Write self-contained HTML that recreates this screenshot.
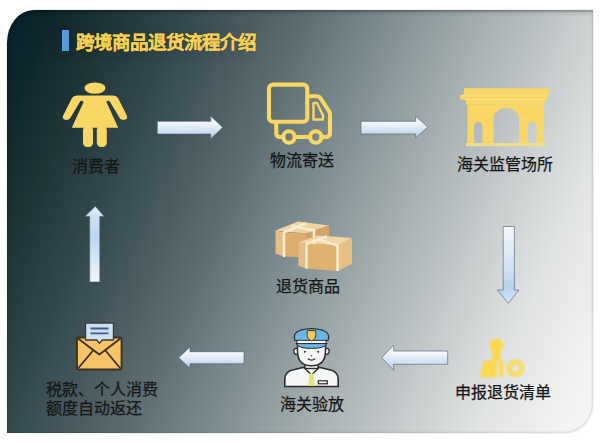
<!DOCTYPE html>
<html lang="zh-CN"><head><meta charset="utf-8">
<style>
html,body{margin:0;padding:0;background:#fff;}
body{width:600px;height:443px;position:relative;overflow:hidden;font-family:"Liberation Sans",sans-serif;}
.panel{position:absolute;left:6.7px;top:10px;width:586.3px;height:422.5px;
 border-radius:27px 0 28px 0 / 33px 0 30px 0;
 box-shadow:inset 0 0 2px 1px rgba(0,0,0,0.11),inset 0 2px 0 rgba(0,0,0,0.1),inset 0 5px 4px -2px rgba(0,0,0,0.14),0 0 2px rgba(0,0,0,0.2);
 background:linear-gradient(113deg,#07202a 0%,#0c242a 5%,#1e3336 13%,#33484d 23%,#5d6c70 39%,#748489 47%,#9ea8aa 60%,#cbcfd0 76%,#e2e5e4 85%,#f2f3f3 96%,#f5f5f5 100%);}
.t{position:absolute;white-space:nowrap;font-size:16px;color:#161616;line-height:1;-webkit-text-stroke:0.25px #161616;}
.title{position:absolute;left:76.3px;top:33.7px;font-size:18.5px;letter-spacing:-1px;font-weight:bold;color:#f7d052;white-space:nowrap;line-height:1;-webkit-text-stroke:0.1px #f7d052;text-shadow:0 0 1px rgba(20,10,0,0.5);}
.bar{position:absolute;left:62px;top:30px;width:7px;height:21px;background:#5b9ad8;}
svg{position:absolute;left:0;top:0;}
</style></head>
<body>
<div class="panel"></div>
<div style="position:absolute;left:50px;top:23px;width:206px;height:39px;background:rgba(0,12,28,0.03);"></div>
<div class="bar"></div>
<div class="title">跨境商品退货流程介绍</div>

<svg width="600" height="443" viewBox="0 0 600 443">
<defs>
 <linearGradient id="ah" x1="0" y1="0" x2="0" y2="1">
  <stop offset="0" stop-color="#e4edf7"/><stop offset="0.3" stop-color="#f2f7fc"/><stop offset="0.6" stop-color="#d8e5f4"/><stop offset="1" stop-color="#b8cde8"/>
 </linearGradient>
 <linearGradient id="av" x1="0" y1="0" x2="0" y2="1">
  <stop offset="0" stop-color="#f3f7fb"/><stop offset="0.55" stop-color="#d2e2f3"/><stop offset="0.8" stop-color="#b7d2ef"/><stop offset="1" stop-color="#d8e7f6"/>
 </linearGradient>
 <linearGradient id="au" x1="0" y1="0" x2="0" y2="1">
  <stop offset="0" stop-color="#e2edf8"/><stop offset="0.14" stop-color="#cfe1f4"/><stop offset="0.4" stop-color="#bcd5f0"/><stop offset="0.75" stop-color="#dce9f6"/><stop offset="1" stop-color="#f1f6fb"/>
 </linearGradient>
<filter id="bl" x="-20%" y="-20%" width="140%" height="140%"><feGaussianBlur stdDeviation="0.95"/></filter>
</defs>

<!-- woman -->
<g fill="#f9d764">
 <ellipse cx="95" cy="88.1" rx="10.5" ry="5.7"/>
 <path d="M77 95.5 H113 Q116.5 95.5 118 98 L126.8 115.5 Q128 118.5 125.5 119.6 Q122 120.5 120 118.5 L109.8 101.5 Q107.8 99.8 106.4 102 L118.2 127.8 H71.8 L83.6 102 Q82.2 99.8 80.2 101.5 L70 118.5 Q68 120.5 64.5 119.6 Q62 118.5 63.2 115.5 L72 98 Q73.5 95.5 77 95.5 Z"/>
 <rect x="83" y="126" width="10" height="21" rx="4.2"/>
 <rect x="96.8" y="126" width="10" height="21" rx="4.2"/>
</g>

<!-- truck -->
<g fill="none" stroke="#f9d764" stroke-width="4.1" stroke-linejoin="round" stroke-linecap="round">
 <rect x="269" y="84.6" width="38.3" height="37.2" rx="4"/>
 <path d="M307.3 96.3 H316.5 Q319.3 96.3 320.8 98.6 L329.2 111.5 Q330 112.8 330 114.5 V133 Q330 137 326 137 H321.5"/>
 <path d="M276.3 123 V133 Q276.3 137 280 137 H283.3"/>
 <circle cx="289" cy="137" r="5.7"/>
 <circle cx="315.8" cy="137" r="5.7"/>
 <path d="M294.7 137 H310.1"/>
</g>
<path d="M313.5 103 H317 L323 115.5 V119.5 H313.5 Z" fill="none" stroke="#f9d764" stroke-width="2.4" stroke-linejoin="round"/>

<!-- arch -->
<g fill="#f9d764">
 <rect x="464" y="88.3" width="85" height="6.5"/>
 <rect x="460" y="95" width="87.5" height="4.5"/>
 <rect x="466" y="99.5" width="79" height="5"/>
 <path fill-rule="evenodd" d="M467.5 104.5 H544 V143 H467.5 Z M493.6 143 V118.5 A12.7 10.5 0 0 1 519 118.5 V143 Z M474 143 V126.3 A4.25 4.25 0 0 1 482.5 126.3 V143 Z M528 143 V126.3 A4.35 4.35 0 0 1 536.7 126.3 V143 Z"/>
 <rect x="466" y="143" width="79" height="3.2" fill="#ecde8c"/>
 <rect x="462" y="94.6" width="85" height="0.8" fill="#fbe7a0"/>
 <rect x="464" y="99.2" width="82" height="0.8" fill="#fbe7a0"/>
</g>

<!-- boxes -->
<g>
 <polygon points="275.5,230.5 298,221.5 329,225.5 306,233.5" fill="#f0d4a2"/>
 <polygon points="275.5,230.5 284,232.2 284,256.5 275.5,253.5" fill="#e6bf86"/>
 <polygon points="284,232.2 306,233.5 306,257.5 284,256.5" fill="#dcae6e"/>
 <polygon points="306,233.5 329,225.5 329,249.5 306,257.5" fill="#d3a465"/>
 <g stroke="#fbecd2" stroke-width="2.6" fill="none" stroke-linejoin="round">
  <path d="M284 257 V232.2 L306 223.5"/>
  <path d="M292 226 L314 230.5 V245"/>
 </g>
 <polygon points="298.5,242.5 318,235.5 352,238 337.5,245.5" fill="#f1d7a6"/>
 <polygon points="298.5,242.5 306.5,244 306.5,268.5 298.5,266" fill="#e5bd84"/>
 <polygon points="306.5,244 337.5,245.5 337.5,271 306.5,268.5" fill="#dfb272"/>
 <polygon points="337.5,245.5 352,238 352,264 337.5,271" fill="#e6c186"/>
 <g stroke="#fbecd2" stroke-width="2.6" fill="none" stroke-linejoin="round">
  <path d="M306.5 268.5 V244 L327 236.5"/>
  <path d="M318 239.5 L337.5 245.5 V271"/>
 </g>
</g>

<!-- officer -->
<g>
 <path d="M284.8 386.5 V379 Q284.8 371.5 293.5 369.8 L303 367.5 H320 L329.5 369.8 Q338.2 371.5 338.2 379 V386.5 Z" fill="#f4f6f8" stroke="#2b2b2b" stroke-width="1.6"/>
 <path d="M303.5 367 L311.5 375 L319.5 367" fill="#fff" stroke="#2b2b2b" stroke-width="1.4"/>
 <path d="M309.5 373.5 H313.5 L315 386 H308 Z" fill="#e3e687"/>
 <rect x="318.3" y="380.8" width="9" height="3" fill="none" stroke="#2b2b2b" stroke-width="1.2"/>
 <rect x="305" y="361" width="13" height="7.5" fill="#f4f6f8" stroke="#2b2b2b" stroke-width="1.4"/>
 <ellipse cx="296.3" cy="351.3" rx="2.5" ry="3" fill="#f4f6f8" stroke="#2b2b2b" stroke-width="1.3"/>
 <ellipse cx="326.7" cy="351.3" rx="2.5" ry="3" fill="#f4f6f8" stroke="#2b2b2b" stroke-width="1.3"/>
 <path d="M297.5 343 V351 Q297.5 365.8 311.5 365.8 Q325.5 365.8 325.5 351 V343 Z" fill="#f4f6f8" stroke="#2b2b2b" stroke-width="1.5"/>
 <circle cx="304.8" cy="351.8" r="1" fill="#2b2b2b"/><circle cx="318.2" cy="351.8" r="1" fill="#2b2b2b"/>
 <circle cx="311.5" cy="355.8" r="0.7" fill="#444"/>
 <path d="M307.8 358.8 Q311.5 361.5 315.2 358.8" fill="none" stroke="#2b2b2b" stroke-width="1.2"/>
 <path d="M295 340.5 Q292 333 300.5 330.2 Q311.5 327.2 322.5 330.2 Q331 333 328 340.5 Z" fill="#6ab6e4" stroke="#2b2b2b" stroke-width="1.2"/>
 <rect x="297" y="340.3" width="29" height="3.3" fill="#f4f6f8" stroke="#2b2b2b" stroke-width="0.9"/>
 <path d="M296 343.6 H327 Q325 348.4 311.5 348.4 Q298 348.4 296 343.6 Z" fill="#6ab6e4" stroke="#2b2b2b" stroke-width="1"/>
 <path d="M307.2 330.6 H315.8 V336 Q315.8 339 311.5 341 Q307.2 339 307.2 336 Z" fill="#f6c95c" stroke="#3a3020" stroke-width="0.9"/>
</g>

<!-- stamp person -->
<g filter="url(#bl)" fill="#fbd84e">
 <circle cx="496.5" cy="345.6" r="7"/>
 <rect x="492.5" y="351" width="8" height="10"/>
 <path d="M479.5 377.5 L483 364 Q484.2 360.3 488 360.3 H496.2 V377.5 Z"/>
 <rect x="498.3" y="360.3" width="5.4" height="17" rx="1" fill="#f8db62"/>
 <path fill="#f6dc6c" fill-rule="evenodd" d="M506.3 368.2 A9.1 9.1 0 1 0 524.5 368.2 A9.1 9.1 0 1 0 506.3 368.2 Z M511.5 368.2 A3.9 2.9 0 1 0 519.3 368.2 A3.9 2.9 0 1 0 511.5 368.2 Z"/>
</g>

<!-- envelope -->
<g>
 <rect x="77" y="337.5" width="44.5" height="32" rx="1.5" fill="#f8c468" stroke="#3d2f22" stroke-width="1.8"/>
 <path d="M85.5 323 H113.5 V340 H102.2 L99.5 343.4 L96.8 340 H85.5 Z" fill="#cfe0f1" stroke="#3a3a40" stroke-width="1.4" stroke-linejoin="round"/>
 <path d="M90.5 328.5 H108.5 M90.5 333.3 H108.5" stroke="#3b5c8d" stroke-width="1.8"/>
 <path d="M78 338.5 L99.3 354.5 L120.5 338.5" fill="none" stroke="#3d2f22" stroke-width="1.8" stroke-linejoin="round"/>
 <path d="M78 368.5 L93.5 350 M120.5 368.5 L105 350" fill="none" stroke="#3d2f22" stroke-width="1.8"/>
</g>

<!-- arrows -->
<g stroke="#4c5d70" stroke-width="1" stroke-opacity="0.6">
 <path d="M157.3 121.3 H210.7 V116 L222.7 127.4 L210.7 138.7 V134 H157.3 Z" fill="url(#ah)"/>
 <path d="M361 121.3 H415.7 V116 L427.7 127.2 L415.7 138 V134 H361 Z" fill="url(#ah)"/>
 <path d="M503.2 226.5 H514.4 V290 H519 L508.3 303.3 L497.5 290 H503.2 Z" fill="url(#av)"/>
 <path d="M447.7 351 V364.3 H393.7 V370.3 L381.7 357.7 L393.7 345 V351 Z" fill="url(#ah)"/>
 <path d="M244 351.7 V363.7 H190 V368.3 L178.7 357.7 L190 347 V351.7 Z" fill="url(#ah)"/>
 <path d="M89.7 282 V216.4 H85 L95.3 206.3 L104.3 216.4 H99.8 V282 Z" fill="url(#au)"/>
</g>
</svg>

<div class="t" style="left:72.2px;top:158.8px;">消费者</div>
<div class="t" style="left:269.5px;top:152.5px;">物流寄送</div>
<div class="t" style="left:457.2px;top:157px;">海关监管场所</div>
<div class="t" style="left:275.5px;top:278.5px;">退货商品</div>
<div class="t" style="left:279.5px;top:397px;">海关验放</div>
<div class="t" style="left:454.7px;top:385.3px;">申报退货清单</div>
<div class="t" style="left:46.3px;top:381.3px;line-height:18.5px;">税款、个人消费<br>额度自动返还</div>
</body></html>
